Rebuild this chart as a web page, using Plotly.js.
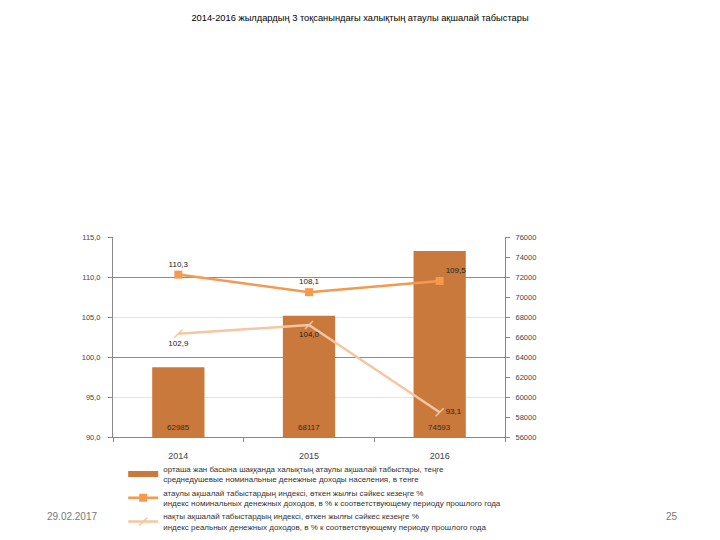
<!DOCTYPE html>
<html>
<head>
<meta charset="utf-8">
<script src="https://cdn.plot.ly/plotly-3.0.1.min.js"></script>
<style>html,body{margin:0;padding:0;background:#fff;}#chart{width:720px;height:540px;}</style>
</head>
<body>
<div id="chart"></div>
<script>
var years = ['2014', '2015', '2016'];
var incomeTenge = [62985, 68117, 74593];
var nominalIndex = [110.3, 108.1, 109.5];
var realIndex = [102.9, 104.0, 93.1];
var nominalPos = ['top center', 'top center', 'top right'];
var realPos = ['bottom center', 'bottom center', 'middle right'];
var leftTicks = [90, 95, 100, 105, 110, 115];
var rightTicks = [56000, 58000, 60000, 62000, 64000, 66000, 68000, 70000, 72000, 74000, 76000];
var darkGrid = [100, 110];

var nameBar = 'орташа жан басына шаққанда халықтың атаулы ақшалай табыстары, теңге<br>среднедушевые номинальные денежные доходы населения, в тенге';
var nameNom = 'атаулы ақшалай табыстардың индексі, өткен жылғы сәйкес кезеңге %<br>индекс номинальных денежных доходов, в % к соответствующему периоду прошлого года';
var nameReal = 'нақты ақшалай табыстардың индексі, өткен жылғы сәйкес кезеңге %<br>индекс реальных денежных доходов, в % к соответствующему периоду прошлого года';

var font = 'Liberation Sans, Arial, sans-serif';
var barColor = '#C8793B';
var nomColor = '#F39A4E';
var realColor = '#F6C6A2';

function fmt(v) { return v.toFixed(1).replace('.', ','); }

var traces = [
  {
    type: 'bar', x: years, y: incomeTenge, yaxis: 'y', name: nameBar, showlegend: false,
    marker: {color: barColor}, width: 0.4
  },
  {
    type: 'scatter', mode: 'lines', x: years, y: [null, null, null], yaxis: 'y', name: nameBar,
    line: {color: barColor, width: 6}, hoverinfo: 'skip'
  },
  {
    type: 'scatter', mode: 'lines+markers+text', x: years, y: nominalIndex, yaxis: 'y2', name: nameNom,
    line: {color: nomColor, width: 2.5}, marker: {symbol: 'square', size: 8, color: nomColor},
    text: nominalIndex.map(fmt), textposition: nominalPos, textfont: {size: 8, color: '#222', family: font},
    cliponaxis: false
  },
  {
    type: 'scatter', mode: 'lines+markers+text', x: years, y: realIndex, yaxis: 'y2', name: nameReal,
    line: {color: realColor, width: 2.5},
    marker: {symbol: 'line-ne-open', size: 8, color: realColor, line: {width: 1.5, color: realColor}},
    text: realIndex.map(fmt), textposition: realPos, textfont: {size: 8, color: '#222', family: font},
    cliponaxis: false
  },
  {
    type: 'scatter', x: years, y: [null, null, null], yaxis: 'y3', showlegend: false, hoverinfo: 'skip'
  }
];

var barLabels = years.map(function (yr, i) {
  return {text: String(incomeTenge[i]), x: i, y: 0, xref: 'x', yref: 'paper',
    xanchor: 'center', yanchor: 'bottom', yshift: 3, showarrow: false,
    font: {size: 8, color: '#3a2a1a', family: font}};
});

var layout = {
  width: 720, height: 540,
  paper_bgcolor: '#ffffff', plot_bgcolor: 'rgba(0,0,0,0)',
  margin: {l: 113, r: 215, t: 237, b: 103, autoexpand: false},
  separators: ', ',
  title: {text: '2014-2016 жылдардың 3 тоқсанындағы халықтың атаулы ақшалай табыстары',
    font: {size: 9.3, color: '#000', family: font}, x: 0.5, xref: 'container', xanchor: 'center',
    y: 0.967, yref: 'container', yanchor: 'middle'},
  showlegend: true,
  legend: {x: 0.026, y: -0.10, xanchor: 'left', yanchor: 'top', orientation: 'v',
    font: {size: 8, color: '#333', family: font}, tracegroupgap: 4, itemwidth: 30,
    bgcolor: 'rgba(0,0,0,0)', traceorder: 'normal'},
  xaxis: {type: 'category', tickson: 'boundaries', ticks: 'outside', ticklen: 4, tickcolor: '#888',
    showline: true, linecolor: '#888', linewidth: 1, showgrid: false, ticklabelstandoff: 10,
    tickfont: {size: 9, color: '#444', family: font}, range: [-0.5, 2.5]},
  yaxis: {range: [56000, 76000], tickvals: rightTicks, tickformat: 'd', side: 'right',
    ticks: 'outside', ticklen: 4, tickcolor: '#888', showline: true, linecolor: '#888', linewidth: 1,
    showgrid: false, zeroline: false, tickfont: {size: 7.5, color: '#444', family: font}, ticklabelstandoff: 4},
  yaxis2: {range: [90, 115], tickvals: leftTicks, tickformat: '.1f', overlaying: 'y', side: 'left',
    ticks: 'outside', ticklen: 4, tickcolor: '#888',
    showline: true, linecolor: '#888', linewidth: 1, showgrid: true, gridcolor: '#e3e3e3', gridwidth: 1,
    zeroline: false, tickfont: {size: 7.5, color: '#444', family: font}, ticklabelstandoff: 6},
  yaxis3: {range: [90, 115], tickvals: darkGrid, overlaying: 'y', showticklabels: false, showgrid: true,
    gridcolor: '#8c8c8c', gridwidth: 1, zeroline: false, showline: false, ticks: ''},
  annotations: barLabels.concat([
    {text: '29.02.2017', xref: 'paper', yref: 'paper', x: -0.105, y: -0.395, xanchor: 'center', yanchor: 'middle',
      showarrow: false, font: {size: 10, color: '#777', family: font}},
    {text: '25', xref: 'paper', yref: 'paper', x: 1.425, y: -0.395, xanchor: 'center', yanchor: 'middle',
      showarrow: false, font: {size: 10, color: '#777', family: font}}
  ])
};

Plotly.newPlot('chart', traces, layout, {displayModeBar: false, staticPlot: true});
</script>
</body>
</html>
